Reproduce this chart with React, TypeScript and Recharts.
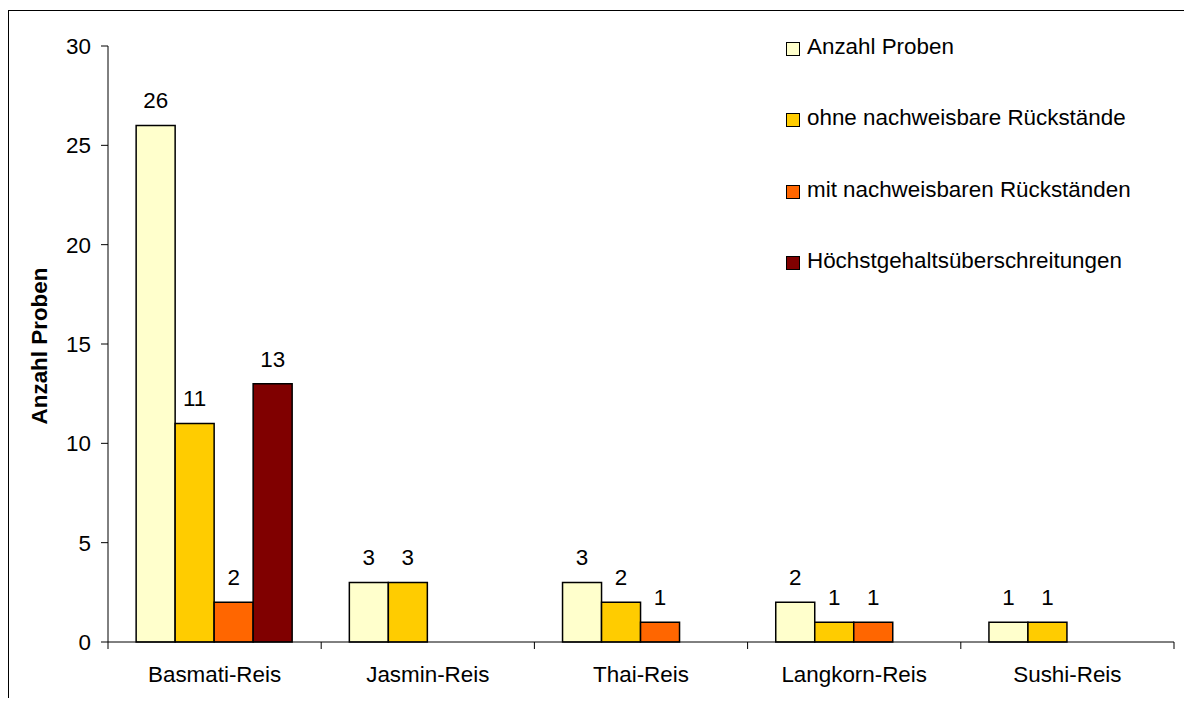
import React from 'react';
import { BarChart, Bar, XAxis, YAxis, Legend, LabelList } from 'recharts';

// Reis-Sorten und Probenzahlen
const categories = ['Basmati-Reis', 'Jasmin-Reis', 'Thai-Reis', 'Langkorn-Reis', 'Sushi-Reis'];
const anzahlProben = [26, 3, 3, 2, 1];
const ohneRueckstaende = [11, 3, 2, 1, 1];
const mitRueckstaenden: (number | null)[] = [2, null, 1, 1, null];
const hoechstgehalt: (number | null)[] = [13, null, null, null, null];
const yTicks = [0, 5, 10, 15, 20, 25, 30];

const seriesNames = [
  'Anzahl Proben',
  'ohne nachweisbare Rückstände',
  'mit nachweisbaren Rückständen',
  'Höchstgehaltsüberschreitungen',
];
const seriesColors = ['#FFFFCC', '#FFCC00', '#FF6600', '#800000'];

const data = categories.map((name, i) => ({
  name,
  s0: anzahlProben[i],
  s1: ohneRueckstaende[i],
  s2: mitRueckstaenden[i],
  s3: hoechstgehalt[i],
}));

const FONT = '"Liberation Sans", Arial, Helvetica, sans-serif';
const FS = 22.4;

const renderValue = (props: any) => {
  const { x, y, width, value } = props;
  if (value === null || value === undefined) return null;
  return (
    <text x={Number(x) + Number(width) / 2} y={Number(y) - 17} textAnchor="middle" fontSize={FS} fill="#000" fontFamily={FONT}>
      {value}
    </text>
  );
};

// Category tick: label in the middle, small tick marks at the category boundaries
const CategoryTick = (props: any) => {
  const { x, y, payload, index, visibleTicksCount } = props;
  const half = payload.offset || 0;
  const isLast = index === (visibleTicksCount ?? categories.length) - 1;
  return (
    <g>
      <line x1={x - half} y1={y} x2={x - half} y2={y + 7} stroke="#000" strokeWidth={1} />
      {isLast && <line x1={x + half} y1={y} x2={x + half} y2={y + 7} stroke="#000" strokeWidth={1} />}
      <text x={x} y={y + 40} textAnchor="middle" fontSize={FS} fill="#000" fontFamily={FONT}>
        {payload.value}
      </text>
    </g>
  );
};

const YTitle = (props: any) => {
  const vb = props.viewBox || {};
  const cy = vb.y + vb.height / 2 + 2;
  const cx = 39;
  return (
    <text
      x={cx}
      y={cy}
      transform={`rotate(-90 ${cx} ${cy})`}
      textAnchor="middle"
      fontSize={FS}
      fontWeight="bold"
      fill="#000"
      fontFamily={FONT}
    >
      Anzahl Proben
    </text>
  );
};

const LegendContent = (props: any) => {
  const payload = [...(props.payload || [])].sort(
    (a: any, b: any) => seriesNames.indexOf(a.value) - seriesNames.indexOf(b.value)
  );
  return (
    <div style={{ fontFamily: FONT, fontSize: FS, lineHeight: '22px', color: '#000' }}>
      {payload.map((entry: any, i: number) => (
        <div key={i} style={{ position: 'relative', height: 71.3, whiteSpace: 'nowrap' }}>
          <span
            style={{
              position: 'absolute',
              left: 0,
              top: 6,
              width: 12,
              height: 12,
              border: '1px solid #000',
              background: entry.color,
            }}
          />
          <span style={{ position: 'absolute', left: 21, top: 0 }}>{entry.value}</span>
        </div>
      ))}
    </div>
  );
};

export default function App() {
  return (
    <div style={{ position: 'relative', width: 1184, height: 698, marginBottom: -8, overflow: 'hidden', background: '#fff' }}>
      <div
        style={{
          position: 'absolute',
          left: 0,
          top: 2,
          width: 2000,
          height: 2000,
          borderLeft: '1px solid #000',
          borderTop: '1px solid #000',
        }}
      />
      <div style={{ position: 'absolute', left: 0, top: 0 }}>
        <BarChart
          width={1184}
          height={698}
          data={data}
          margin={{ top: 38, right: 18, bottom: 34, left: 0 }}
          barCategoryGap="13.2%"
          barGap={0}
          style={{ fontFamily: FONT }}
        >
          <XAxis
            dataKey="name"
            height={30}
            axisLine={{ stroke: '#000', strokeWidth: 1 }}
            tickLine={false}
            tickSize={0}
            tickMargin={0}
            tick={<CategoryTick />}
            interval={0}
          />
          <YAxis
            width={100}
            domain={[0, 30]}
            ticks={yTicks}
            interval={0}
            axisLine={{ stroke: '#000', strokeWidth: 1 }}
            tickLine={{ stroke: '#000', strokeWidth: 1 }}
            tickSize={7}
            tickMargin={10}
            tick={{ fontSize: FS, fill: '#000', fontFamily: FONT }}
            label={{ content: <YTitle /> }}
          />
          <Legend
            layout="vertical"
            align="center"
            verticalAlign="middle"
            itemSorter={null as any}
            wrapperStyle={{ left: 778, top: 28, width: 400 }}
            content={<LegendContent />}
          />
          {seriesNames.map((n, i) => (
            <Bar
              key={n}
              dataKey={`s${i}`}
              name={n}
              fill={seriesColors[i]}
              stroke="#000"
              strokeWidth={1.5}
              isAnimationActive={false}
            >
              <LabelList dataKey={`s${i}`} content={renderValue} />
            </Bar>
          ))}
        </BarChart>
      </div>
    </div>
  );
}
